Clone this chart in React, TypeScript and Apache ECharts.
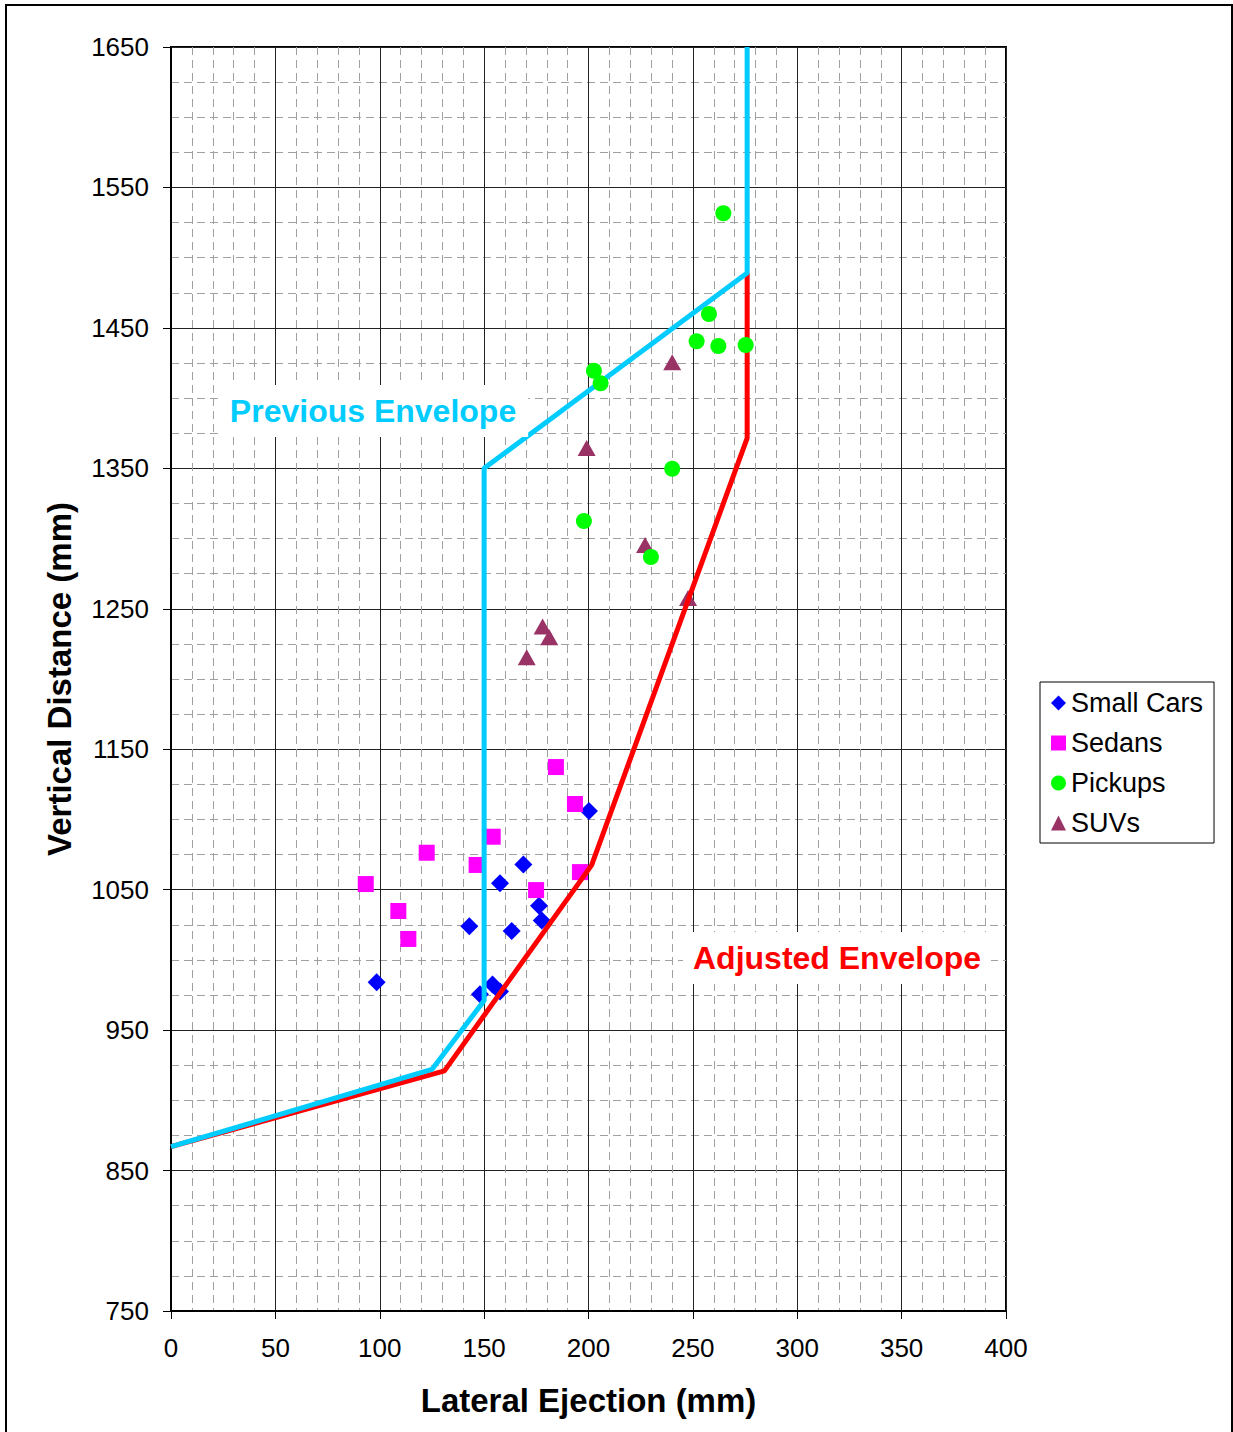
import React, { useEffect, useRef } from "react";
import * as echarts from "echarts";

const xTicks = [0, 400, 50];
const yTicks = [750, 1650, 100];

const smallCars: number[][] = [
  [98.5, 984], [142.9, 1024], [157.6, 1054.5], [168.8, 1068], [163.2, 1020.6],
  [176.3, 1038.6], [177.6, 1028], [200.2, 1106], [154, 982.5], [148, 975.5], [157.6, 977.5],
];
const sedans: number[][] = [
  [93.3, 1054], [108.9, 1034.8], [113.7, 1014.9], [122.5, 1076.3], [146.4, 1067.6],
  [154.1, 1087.7], [174.9, 1049.7], [184.4, 1137.3], [193.5, 1111], [195.9, 1062.5],
];
const pickups: number[][] = [
  [264.6, 1531.6], [257.7, 1459.9], [251.8, 1440.5], [262.2, 1437.1], [275.3, 1437.8],
  [202.6, 1419.5], [205.8, 1410.5], [240.1, 1349.7], [197.8, 1312.5], [229.9, 1286.9],
];
const suvs: number[][] = [
  [240.1, 1425.5], [199.1, 1364.5], [227.1, 1295.4], [247.7, 1257.7],
  [178, 1237.3], [181.2, 1229.8], [170.4, 1215.4],
];
const previousEnvelope: number[][] = [
  [0, 867], [125, 922], [150, 971], [150, 1350], [276, 1489], [276, 1650],
];
const adjustedEnvelope: number[][] = [
  [0, 867], [131, 921], [201.5, 1067.5], [276, 1371.5], [276, 1489],
];

const FONT = "'Liberation Sans', Arial, sans-serif";

export default function App() {
  const ref = useRef<HTMLDivElement>(null);
  useEffect(() => {
    document.body.style.margin = "0";
    const chart = echarts.init(ref.current!, null, { renderer: "svg" });
    const axisCommon = {
      axisLine: { show: true, onZero: false, lineStyle: { color: "#000", width: 2 } },
      axisTick: { show: true, length: 8, lineStyle: { color: "#000", width: 1 } },
      splitLine: { show: true, lineStyle: { color: "#222", width: 1 } },
      minorSplitLine: { show: true, lineStyle: { color: "#a0a0a0", width: 1, type: [8, 5] } },
      axisLabel: { color: "#000", fontSize: 26, fontFamily: FONT, formatter: (v: number) => String(v) },
      nameTextStyle: { color: "#000", fontSize: 33, fontWeight: "bold", fontFamily: FONT },
      nameLocation: "middle",
    };
    chart.setOption({
      animation: false,
      backgroundColor: "#fff",
      textStyle: { fontFamily: FONT },
      grid: {
        left: 171, top: 47, right: 227, bottom: 121,
        show: true, borderColor: "#000", borderWidth: 2, backgroundColor: "transparent",
      },
      xAxis: {
        type: "value", min: xTicks[0], max: xTicks[1], interval: xTicks[2],
        name: "Lateral Ejection (mm)", nameGap: 73,
        minorTick: { show: false, splitNumber: 5 },
        ...axisCommon,
        axisLabel: { ...axisCommon.axisLabel, margin: 24 },
      },
      yAxis: {
        type: "value", min: yTicks[0], max: yTicks[1], interval: yTicks[2],
        name: "Vertical Distance (mm)", nameGap: 95,
        minorTick: { show: false, splitNumber: 4 },
        ...axisCommon,
        axisLabel: { ...axisCommon.axisLabel, margin: 22 },
      },
      legend: {
        orient: "vertical",
        left: 1040, top: 682,
        itemWidth: 15, itemHeight: 15, itemGap: 10,
        padding: [6, 11, 5, 11],
        borderColor: "#000", borderWidth: 1, backgroundColor: "#fff",
        textStyle: { fontSize: 27, color: "#000", fontFamily: FONT, lineHeight: 30 },
        data: ["Small Cars", "Sedans", "Pickups", "SUVs"],
      },
      series: [
        {
          name: "Small Cars", type: "scatter", data: smallCars, symbol: "diamond",
          symbolSize: [18, 18], itemStyle: { color: "#0000ff", opacity: 1 }, z: 3,
        },
        {
          name: "Sedans", type: "scatter", data: sedans, symbol: "rect",
          symbolSize: 16, itemStyle: { color: "#ff00ff", opacity: 1 }, z: 3,
        },
        {
          name: "SUVs", type: "scatter", data: suvs, symbol: "triangle",
          symbolSize: [18, 16], itemStyle: { color: "#993366", opacity: 1 }, z: 3,
        },
        {
          name: "Adjusted", type: "line", data: adjustedEnvelope, symbol: "none",
          lineStyle: { color: "#ff0000", width: 5 }, z: 4,
        },
        {
          name: "Previous", type: "line", data: previousEnvelope, symbol: "none",
          lineStyle: { color: "#00ccff", width: 5 }, z: 5,
        },
        {
          name: "Pickups", type: "scatter", data: pickups, symbol: "circle",
          symbolSize: 16, itemStyle: { color: "#00ff00", opacity: 1 }, z: 6,
        },
      ],
      graphic: [
        {
          type: "rect", z: 100, silent: true,
          shape: { x: 6, y: 5, width: 1226, height: 1460 },
          style: { fill: "none", stroke: "#000", lineWidth: 2 },
        },
        {
          type: "text", z: 100, x: 373, y: 411,
          style: {
            text: "Previous Envelope", fill: "#00ccff", font: `bold 32px ${FONT}`,
            align: "center", verticalAlign: "middle",
            backgroundColor: "#fff", padding: [10, 12, 10, 12],
          },
        },
        {
          type: "text", z: 100, x: 837, y: 958,
          style: {
            text: "Adjusted Envelope", fill: "#ff0000", font: `bold 32px ${FONT}`,
            align: "center", verticalAlign: "middle",
            backgroundColor: "#fff", padding: [10, 10, 10, 10],
          },
        },
      ],
    });
    return () => chart.dispose();
  }, []);
  return <div ref={ref} style={{ width: 1233, height: 1432 }} />;
}
